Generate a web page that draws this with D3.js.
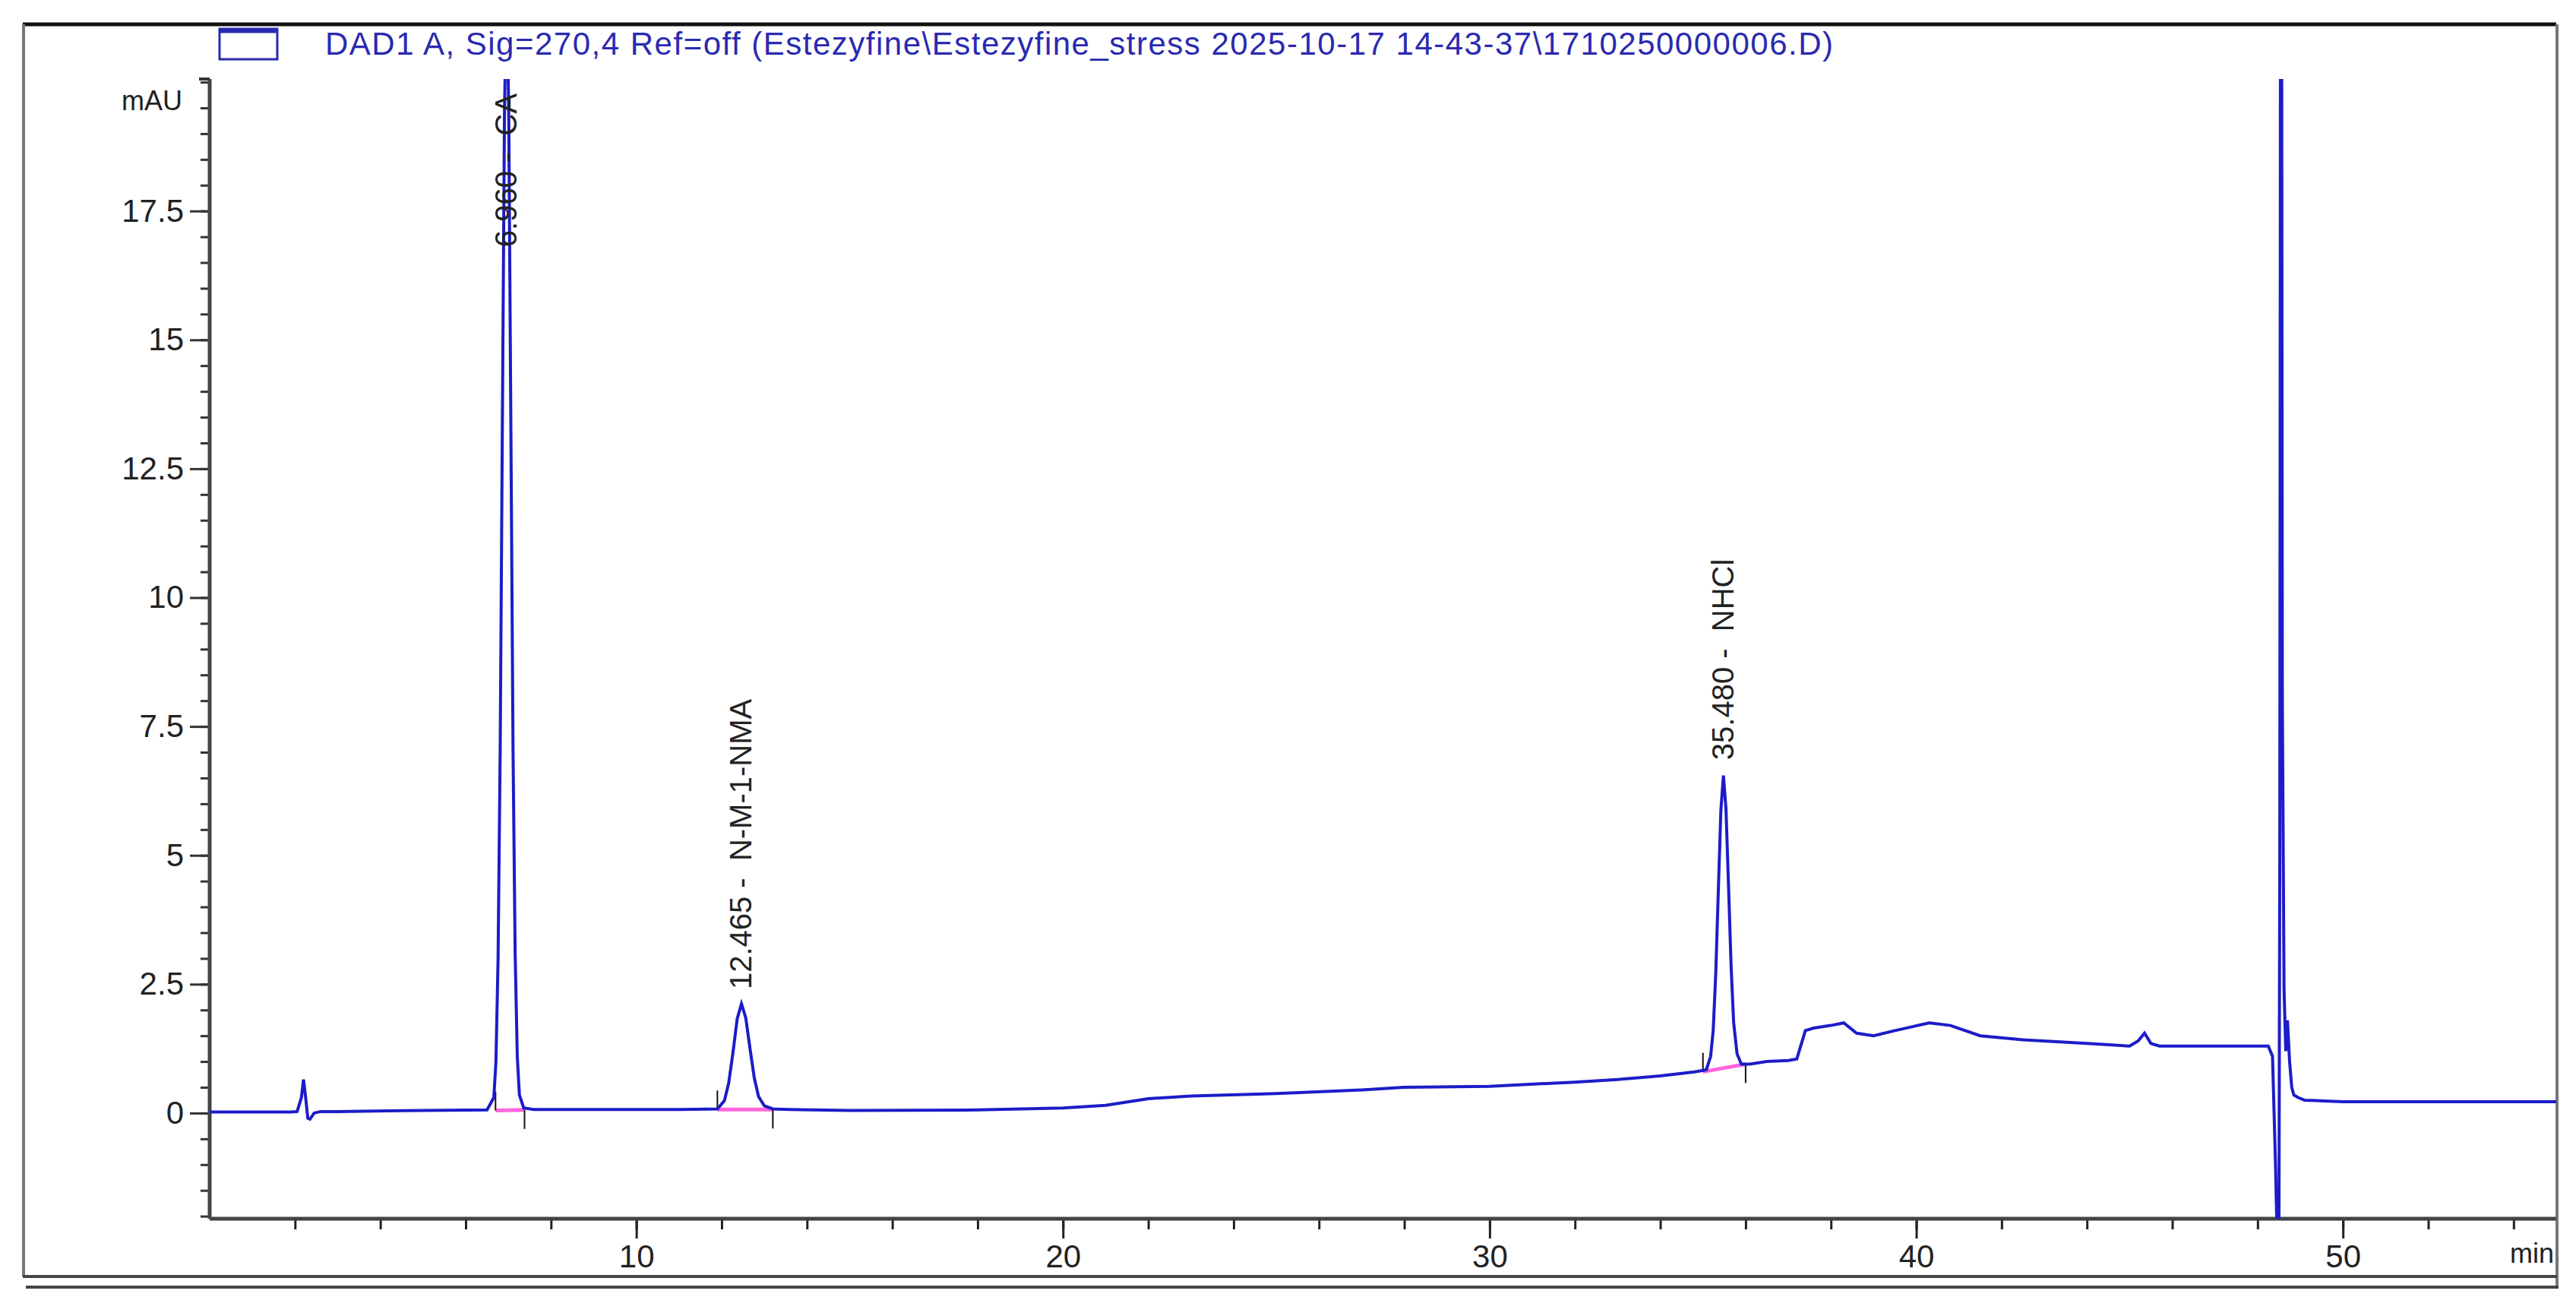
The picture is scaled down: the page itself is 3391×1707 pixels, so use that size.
<!DOCTYPE html>
<html><head><meta charset="utf-8">
<script src="https://cdn.jsdelivr.net/npm/d3@7"></script>
<style>body{margin:0;background:#fff}text{font-family:"Liberation Sans Narrow","Liberation Sans",Arial,sans-serif}</style>
</head><body><svg id="c" width="3391" height="1707"></svg>
<script>
const times = [0,1.9,2.05,2.15,2.2,2.25,2.3,2.35,2.45,2.6,3,5,6.5,6.66,6.71,6.76,6.81,6.86,6.91,6.96,7.01,7.06,7.11,7.16,7.21,7.26,7.36,7.6,9,11,11.9,12.065,12.165,12.265,12.365,12.465,12.565,12.665,12.765,12.865,13.0,13.2,13.6,15,18,20,21,22,23,25,27,28,30,32,33,34,34.8,35.08,35.18,35.24,35.30,35.36,35.42,35.48,35.54,35.60,35.66,35.72,35.80,35.9,36.1,36.5,37.0,37.2,37.4,37.6,38.0,38.3,38.6,39.0,39.5,40.3,40.8,41.5,42.5,44,45.0,45.2,45.35,45.5,45.7,47,48.25,48.35,48.42,48.46,48.5,48.52,48.54,48.56,48.58,48.62,48.66,48.7,48.75,48.8,48.85,48.95,49.1,50,52,55];
const signal = [0.02,0.02,0.03,0.3,0.65,0.3,-0.1,-0.12,0.0,0.03,0.03,0.05,0.06,0.3,1.0,3.0,7.1,13.3,19.4,22,19.4,13.3,7.1,3.1,1.1,0.35,0.1,0.07,0.07,0.07,0.08,0.24,0.58,1.17,1.83,2.12,1.85,1.25,0.68,0.32,0.14,0.08,0.07,0.05,0.06,0.1,0.15,0.28,0.33,0.38,0.45,0.5,0.52,0.6,0.65,0.72,0.8,0.84,1.1,1.6,2.7,4.3,5.87,6.55,5.9,4.4,2.85,1.75,1.15,0.95,0.95,1.0,1.02,1.05,1.6,1.65,1.7,1.75,1.55,1.5,1.6,1.75,1.7,1.5,1.42,1.35,1.3,1.4,1.55,1.35,1.3,1.3,1.3,1.1,-1.0,-2.5,-2.5,5,25,25,8,2.4,1.2,1.8,1.0,0.5,0.35,0.3,0.25,0.22,0.22,0.22];
const yTicks = [0,2.5,5,7.5,10,12.5,15,17.5];
const xTicks = [10,20,30,40,50];
const peakLabels = [{t:6.96,y:16.8,text:"6.960 -  CA"},{t:12.465,y:2.4,text:"12.465 -  N-M-1-NMA"},{t:35.48,y:6.85,text:"35.480 -  NHCl"}];
const baselines = [[6.7,0.05,7.38,0.06],[11.9,0.07,13.2,0.07],[35.0,0.8,36.0,0.95]];
const legendText = "DAD1 A, Sig=270,4 Ref=off (Estezyfine\\Estezyfine_stress 2025-10-17 14-43-37\\1710250000006.D)";

const svg = d3.select("#c");
const L=276,R=3365,T=104,B=1604;
const x = d3.scaleLinear().domain([0,55]).range([L,R]);
const y = d3.scaleLinear().domain([-2.05,20.06]).range([B,T]);
const blue="#1c1cc8";
svg.append("line").attr("x1",30).attr("x2",3365).attr("y1",32).attr("y2",32).attr("stroke","#111").attr("stroke-width",5);
svg.append("line").attr("x1",31).attr("x2",31).attr("y1",32).attr("y2",1680).attr("stroke","#777").attr("stroke-width",4);
svg.append("line").attr("x1",3366).attr("x2",3366).attr("y1",32).attr("y2",1693).attr("stroke","#777").attr("stroke-width",4);
svg.append("line").attr("x1",30).attr("x2",3366).attr("y1",1680).attr("y2",1680).attr("stroke","#444").attr("stroke-width",4);
svg.append("line").attr("x1",34).attr("x2",3368).attr("y1",1694).attr("y2",1694).attr("stroke","#444").attr("stroke-width",4);
svg.append("rect").attr("x",289).attr("y",38).attr("width",76).attr("height",40).attr("fill","#fff").attr("stroke","#2a2ab0").attr("stroke-width",3);
svg.append("line").attr("x1",289).attr("x2",365).attr("y1",41).attr("y2",41).attr("stroke","#2a2ab0").attr("stroke-width",5);
svg.append("text").attr("x",428).attr("y",72).attr("font-size",42).attr("textLength",1985).attr("fill","#2a2ab0").text(legendText);
svg.append("clipPath").attr("id","cp").append("rect").attr("x",L).attr("y",T).attr("width",R-L).attr("height",B-T);
const gx = svg.append("g").attr("transform",`translate(0,${B})`);
gx.call(d3.axisBottom(x).tickValues(d3.range(2,55,2)).tickSize(14).tickFormat(""));
gx.selectAll(".tick line").attr("stroke","#222").attr("stroke-width",3);
const gx2 = svg.append("g").attr("transform",`translate(0,${B})`);
gx2.call(d3.axisBottom(x).tickValues(xTicks).tickSize(26).tickPadding(8).tickFormat(d3.format("d")));
gx2.selectAll(".tick line").attr("stroke","#222").attr("stroke-width",3);
gx2.selectAll(".tick text").attr("font-size",42).attr("fill","#222");
svg.selectAll(".domain").remove();
svg.append("line").attr("x1",L).attr("x2",R).attr("y1",B).attr("y2",B).attr("stroke","#444").attr("stroke-width",5);
const gy = svg.append("g").attr("transform",`translate(${L},0)`);
gy.call(d3.axisLeft(y).tickValues(d3.range(-2,20.01,0.5)).tickSize(12).tickFormat(""));
gy.selectAll(".tick line").attr("stroke","#333").attr("stroke-width",3);
const gy2 = svg.append("g").attr("transform",`translate(${L},0)`);
gy2.call(d3.axisLeft(y).tickValues(yTicks).tickSize(26).tickPadding(8).tickFormat(d=>d3.format("")(d)));
gy2.selectAll(".tick line").attr("stroke","#333").attr("stroke-width",3);
gy2.selectAll(".tick text").attr("font-size",42).attr("fill","#222");
svg.selectAll(".domain").remove();
svg.append("line").attr("x1",L).attr("x2",L).attr("y1",T).attr("y2",B).attr("stroke","#444").attr("stroke-width",5);
svg.append("line").attr("x1",L-14).attr("x2",L).attr("y1",T).attr("y2",T).attr("stroke","#333").attr("stroke-width",4);
svg.append("text").attr("x",240).attr("y",145).attr("text-anchor","end").attr("font-size",36).attr("fill","#222").text("mAU");
svg.append("text").attr("x",3362).attr("y",1662).attr("text-anchor","end").attr("font-size",36).attr("fill","#222").text("min");
const pg = svg.append("g").attr("clip-path","url(#cp)");
baselines.forEach(b=>{
  pg.append("line").attr("x1",x(b[0])).attr("x2",x(b[2])).attr("y1",y(b[1])).attr("y2",y(b[3])).attr("stroke","#ff66dd").attr("stroke-width",5);
  pg.append("line").attr("x1",x(b[0])).attr("x2",x(b[0])).attr("y1",y(b[1])-25).attr("y2",y(b[1])).attr("stroke","#111").attr("stroke-width",2);
  pg.append("line").attr("x1",x(b[2])).attr("x2",x(b[2])).attr("y1",y(b[3])).attr("y2",y(b[3])+25).attr("stroke","#111").attr("stroke-width",2);
});
const pts = times.map((t,i)=>[t,signal[i]]);
pg.append("path").datum(pts).attr("fill","none").attr("stroke",blue).attr("stroke-width",4)
  .attr("d",d3.line().x(d=>x(d[0])).y(d=>y(d[1])));
peakLabels.forEach(p=>{
  svg.append("text").attr("transform",`translate(${x(p.t)+13},${y(p.y)}) rotate(-90)`).attr("font-size",40).attr("fill","#222")
    .style("white-space","pre").text(p.text);
});
</script></body></html>
